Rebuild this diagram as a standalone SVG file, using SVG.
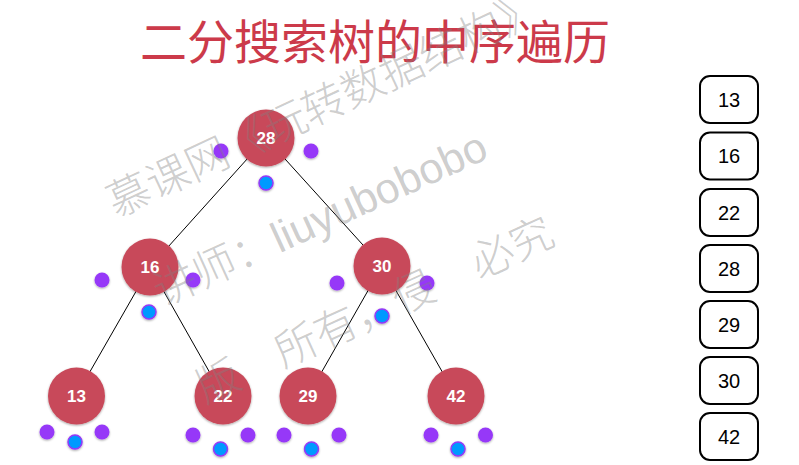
<svg xmlns="http://www.w3.org/2000/svg" width="799" height="465" viewBox="0 0 799 465">
<defs>
<filter id="sh" x="-30%" y="-30%" width="160%" height="160%">
<feDropShadow dx="0" dy="1" stdDeviation="1.2" flood-color="#000" flood-opacity="0.35"/>
</filter>
<style>
.title{font-family:"Noto Sans CJK SC",sans-serif;font-size:47px;fill:#cc3a4a;text-anchor:middle}
.node circle.n{fill:#c84a5a;filter:url(#sh)}
.node text{font-family:"Liberation Sans",Arial,sans-serif;font-size:17px;font-weight:bold;fill:#fff;text-anchor:middle}
.p{fill:#9638f8;filter:url(#sh)}
.b{fill:#0099ff;stroke:#9638f8;stroke-width:1.5;filter:url(#sh)}
.edge{stroke:#000;stroke-width:1;fill:none}
.box rect{fill:#fff;stroke:#000;stroke-width:2}
.box text{font-family:"Liberation Sans",Arial,sans-serif;font-size:20px;fill:#000;text-anchor:middle}
.wm{font-family:"Liberation Sans","Noto Sans CJK SC",sans-serif;font-size:43px;font-weight:300;fill:#808080;fill-opacity:0.4}
</style>
</defs>
<rect width="799" height="465" fill="#fff"/>
<text class="title" x="375" y="59">二分搜索树的中序遍历</text>
<g id="edges">
<line class="edge" x1="266" y1="138" x2="150" y2="267"/>
<line class="edge" x1="266" y1="138" x2="382" y2="266"/>
<line class="edge" x1="150" y1="267" x2="76" y2="396"/>
<line class="edge" x1="150" y1="267" x2="223" y2="396"/>
<line class="edge" x1="382" y1="266" x2="308" y2="396"/>
<line class="edge" x1="382" y1="266" x2="456" y2="396"/>
</g>
<g id="node-28" class="node">
<circle class="n" cx="266" cy="138" r="28.5"/>
<text x="266" y="144">28</text>
<circle class="p" cx="221" cy="151" r="7.5"/>
<circle class="p" cx="311" cy="151" r="7.5"/>
<circle class="b" cx="266" cy="183" r="7"/>
</g>
<g id="node-16" class="node">
<circle class="n" cx="150" cy="267" r="28.5"/>
<text x="150" y="273">16</text>
<circle class="p" cx="102" cy="280" r="7.5"/>
<circle class="p" cx="193" cy="280" r="7.5"/>
<circle class="b" cx="149" cy="312" r="7"/>
</g>
<g id="node-30" class="node">
<circle class="n" cx="382" cy="266" r="28.5"/>
<text x="382" y="272">30</text>
<circle class="p" cx="337" cy="283" r="7.5"/>
<circle class="p" cx="427" cy="283" r="7.5"/>
<circle class="b" cx="382" cy="316" r="7"/>
</g>
<g id="node-13" class="node">
<circle class="n" cx="76.5" cy="396" r="28.5"/>
<text x="76.5" y="402">13</text>
<circle class="p" cx="47" cy="432" r="7.5"/>
<circle class="p" cx="102" cy="432" r="7.5"/>
<circle class="b" cx="75" cy="442" r="7"/>
</g>
<g id="node-22" class="node">
<circle class="n" cx="223" cy="396" r="28.5"/>
<text x="223" y="402">22</text>
<circle class="p" cx="193" cy="435" r="7.5"/>
<circle class="p" cx="248" cy="435" r="7.5"/>
<circle class="b" cx="220.5" cy="449" r="7"/>
</g>
<g id="node-29" class="node">
<circle class="n" cx="308" cy="396" r="28.5"/>
<text x="308" y="402">29</text>
<circle class="p" cx="284" cy="435" r="7.5"/>
<circle class="p" cx="339" cy="435" r="7.5"/>
<circle class="b" cx="311.5" cy="449" r="7"/>
</g>
<g id="node-42" class="node">
<circle class="n" cx="456" cy="396" r="28.5"/>
<text x="456" y="402">42</text>
<circle class="p" cx="431" cy="435" r="7.5"/>
<circle class="p" cx="485.5" cy="435" r="7.5"/>
<circle class="b" cx="458" cy="449" r="7"/>
</g>
<g id="result" class="box">
<rect x="700" y="76" width="58" height="47" rx="10"/><text x="729" y="106.5">13</text>
<rect x="700" y="132.5" width="58" height="47" rx="10"/><text x="729" y="163">16</text>
<rect x="700" y="189" width="58" height="47" rx="10"/><text x="729" y="219.5">22</text>
<rect x="700" y="245" width="58" height="47" rx="10"/><text x="729" y="275.5">28</text>
<rect x="700" y="301" width="58" height="47" rx="10"/><text x="729" y="331.5">29</text>
<rect x="700" y="357" width="58" height="47" rx="10"/><text x="729" y="387.5">30</text>
<rect x="700" y="413" width="58" height="47" rx="10"/><text x="729" y="443.5">42</text>
</g>
<g id="watermark">
<text class="wm" transform="translate(116,218) rotate(-25)">慕课网《玩转数据结构》</text>
<text class="wm" transform="translate(162,307) rotate(-24.5)">讲师：liuyubobobo</text>
<text class="wm" transform="translate(205,404) rotate(-24.5)">版　所有，侵　必究</text>
</g>
</svg>
